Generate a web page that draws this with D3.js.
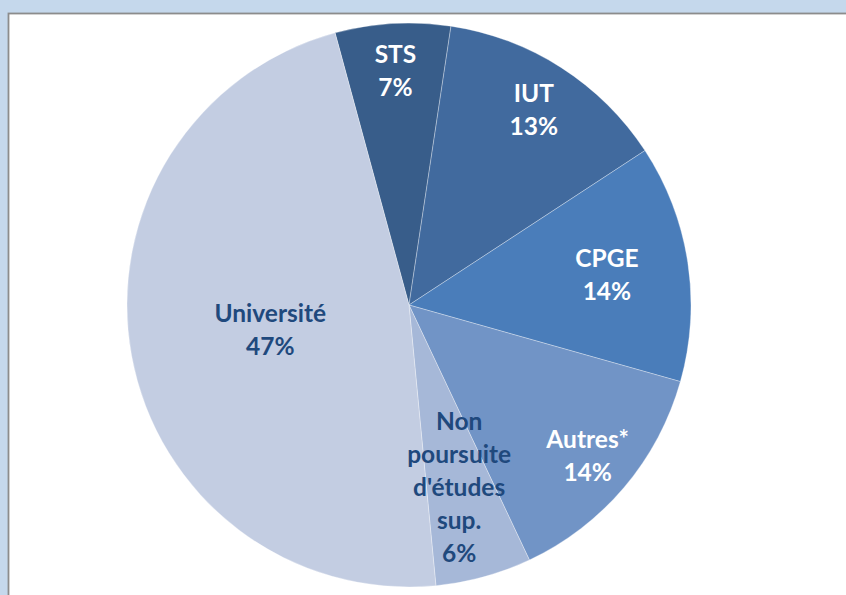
<!DOCTYPE html>
<html>
<head>
<meta charset="utf-8">
<script src="https://cdn.jsdelivr.net/npm/d3@7"></script>
<style>
  body { margin: 0; background: #c5d8ec; }
  svg { display: block; }
</style>
</head>
<body>
<svg width="846" height="595"></svg>
<script>
// ======================= DATA =======================
const categories = ["STS", "IUT", "CPGE", "Autres*", "Non poursuite d'études sup.", "Université"];
const labelLines = [["STS"], ["IUT"], ["CPGE"], ["Autres*"], ["Non", "poursuite", "d'études", "sup."], ["Université"]];
const shares = [6.6, 13.4, 13.6, 13.6, 5.5, 47.3];       // slice sizes
const shownPct = ["7%", "13%", "14%", "14%", "6%", "47%"]; // printed labels
// =====================================================

const colors = ["#385d8a", "#416a9e", "#4a7dba", "#7194c6", "#a6b8d8", "#c3cde2"];
const textColors = ["#ffffff", "#ffffff", "#ffffff", "#ffffff", "#1f497d", "#1f497d"];
const labelRadius = [0.83, 0.82, 0.71, 0.83, 0.67, 0.5];

const svg = d3.select("svg");
const cx = 409, cy = 305, r = 282;

// plot area
svg.append("rect")
    .attr("x", 0).attr("y", 0).attr("width", 846).attr("height", 595)
    .attr("fill", "#c5d8ec");
svg.append("rect")
    .attr("x", 8.5).attr("y", 13.5).attr("width", 850).attr("height", 600)
    .attr("fill", "#ffffff")
    .attr("stroke", "#8c8c8c")
    .attr("stroke-width", 1.8);

const startA = -15.2 * Math.PI / 180;
const pie = d3.pie().sort(null).startAngle(startA).endAngle(startA + 2 * Math.PI);
const arcs = pie(shares);
const arc = d3.arc().innerRadius(0).outerRadius(r);

const g = svg.append("g").attr("transform", "translate(" + cx + "," + cy + ")");

g.selectAll("path")
    .data(arcs)
    .enter()
    .append("path")
    .attr("d", arc)
    .attr("fill", (d, i) => colors[i])
    .attr("stroke", "rgba(255,255,255,0.45)")
    .attr("stroke-width", 0.7);

// labels
const lineH = 33;
arcs.forEach((d, i) => {
    const mid = (d.startAngle + d.endAngle) / 2;
    const lr = r * labelRadius[i];
    const x = Math.sin(mid) * lr;
    const y = -Math.cos(mid) * lr;
    const lines = labelLines[i].concat([shownPct[i]]);
    const top = y - (lines.length - 1) * lineH / 2;
    const t = g.append("text")
        .attr("text-anchor", "middle")
        .attr("font-family", "Lato, 'Open Sans', sans-serif")
        .attr("font-weight", "bold")
        .attr("font-size", 24.5)
        .attr("fill", textColors[i]);
    lines.forEach((s, j) => {
        t.append("tspan")
            .attr("x", x)
            .attr("y", top + j * lineH)
            .attr("dy", "0.35em")
            .text(s);
    });
});
</script>
</body>
</html>
